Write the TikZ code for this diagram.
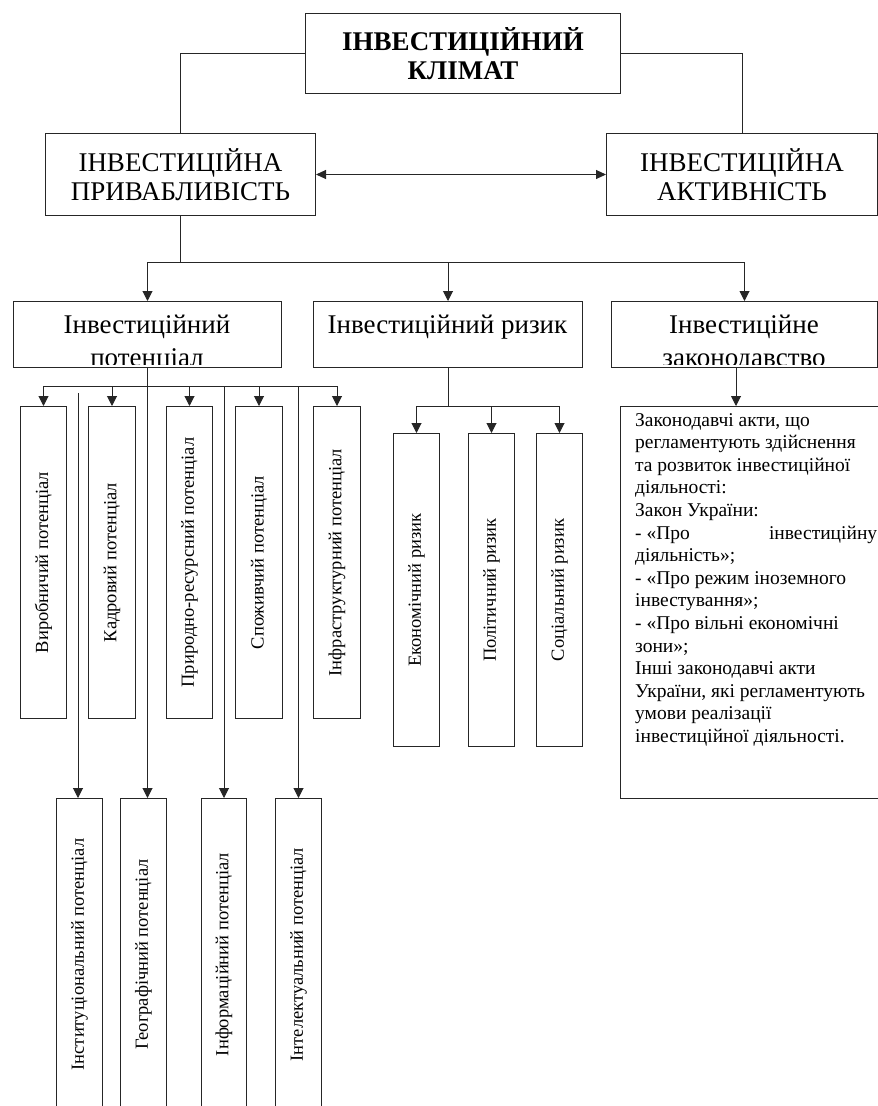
\documentclass[tikz,border=0pt]{standalone}
\usepackage{fontspec}
\setmainfont{Liberation Serif}
\usetikzlibrary{arrows.meta}
\newcommand{\fbig}{\fontsize{27}{29}\selectfont}
\newcommand{\fmid}{\fontsize{27}{30}\selectfont}
\newcommand{\fvert}{\fontsize{18.5}{22}\selectfont}
\newcommand{\flaw}{\fontsize{19.5}{22.6}\selectfont}
\begin{document}
\begin{tikzpicture}[x=1pt,y=-1pt,
  box/.style={draw=black!85, line width=1pt, inner sep=0pt, anchor=north west},
  vbox/.style={box, font=\fvert},
  ln/.style={draw=black!85, line width=1pt},
  arr/.style={ln, -{Triangle[length=10pt,width=10pt]}},
  darr/.style={ln, {Triangle[length=10pt,width=9pt]}-{Triangle[length=10pt,width=9pt]}}]
\useasboundingbox (0,0) rectangle (878,1106);
% top level
\node[box, minimum width=315pt, minimum height=80pt, align=center, font=\fbig\bfseries] (clim) at (305,13) {ІНВЕСТИЦІЙНИЙ\\КЛІМАТ};
\node[box, minimum width=270pt, minimum height=82pt, align=center, font=\fbig] (pryv) at (45,133) {ІНВЕСТИЦІЙНА\\ПРИВАБЛИВІСТЬ};
\node[box, minimum width=271pt, minimum height=82pt, align=center, font=\fbig] (akt) at (606,133) {ІНВЕСТИЦІЙНА\\АКТИВНІСТЬ};
\draw[ln] (clim.west) -| (pryv.north);
\draw[ln] (clim.east) -| (akt.north);
\draw[darr] (pryv.east) -- (akt.west);
% middle row
\node[box, minimum width=268pt, minimum height=66pt] (pot) at (13,301) {};
\node[box, minimum width=269pt, minimum height=66pt] (riz) at (313,301) {};
\node[box, minimum width=266pt, minimum height=66pt] (zak) at (611,301) {};
\begin{scope}
  \clip ([yshift=4pt]pot.south west) rectangle (pot.north east);
  \node[anchor=base, font=\fmid] (potA) at (147,333) {Інвестиційний};
  \node[anchor=base, font=\fmid] (potB) at (147,366) {потенціал};
\end{scope}
\node[anchor=base, font=\fmid] (rizA) at (447.5,333) {Інвестиційний ризик};
\begin{scope}
  \clip ([yshift=4pt]zak.south west) rectangle (zak.north east);
  \node[anchor=base, font=\fmid] (zakA) at (744,333) {Інвестиційне};
  \node[anchor=base, font=\fmid] (zakB) at (744,366) {законодавство};
\end{scope}
\coordinate (h1) at (0,262);
\draw[ln] (pryv.south) -- (pryv.south |- h1);
\draw[ln] (pot.north |- h1) -- (zak.north |- h1);
\draw[arr] (pot.north |- h1) -- (pot.north);
\draw[arr] (riz.north |- h1) -- (riz.north);
\draw[arr] (zak.north |- h1) -- (zak.north);
% potential boxes, upper row
\node[vbox, minimum width=46pt, minimum height=312pt] (vir) at (20,406) {\rotatebox{90}{Виробничий потенціал}};
\node[vbox, minimum width=47pt, minimum height=312pt] (kad) at (88,406) {\rotatebox{90}{Кадровий потенціал}};
\node[vbox, minimum width=46pt, minimum height=312pt] (pry) at (166,406) {\rotatebox{90}{Природно-ресурсний потенціал}};
\node[vbox, minimum width=47pt, minimum height=312pt] (spo) at (235,406) {\rotatebox{90}{Споживчий потенціал}};
\node[vbox, minimum width=47pt, minimum height=312pt] (inf) at (313,406) {\rotatebox{90}{Інфраструктурний потенціал}};
% potential boxes, lower row
\node[vbox, minimum width=46pt, minimum height=312pt] (ins) at (56,798) {\rotatebox{90}{Інституціональний потенціал}};
\node[vbox, minimum width=46pt, minimum height=312pt] (geo) at (120,798) {\rotatebox{90}{Географічний потенціал}};
\node[vbox, minimum width=45pt, minimum height=312pt] (inr) at (201,798) {\rotatebox{90}{Інформаційний потенціал}};
\node[vbox, minimum width=46pt, minimum height=312pt] (int) at (275,798) {\rotatebox{90}{Інтелектуальний потенціал}};
\coordinate (h2) at (0,386);
\coordinate (s1) at (78,393);
\draw[ln] (vir.north |- h2) -- (inf.north |- h2);
\foreach \n in {vir,kad,pry,spo,inf} {\draw[arr] (\n.north |- h2) -- (\n.north);}
\draw[arr] (pot.south) -- (pot.south |- geo.north);
\draw[arr] (s1) -- (s1 |- ins.north);
\draw[arr] (inr.north |- h2) -- (inr.north);
\draw[arr] (int.north |- h2) -- (int.north);
% risk boxes
\node[vbox, minimum width=46pt, minimum height=313pt] (eko) at (393,433) {\rotatebox{90}{Економічний ризик}};
\node[vbox, minimum width=46pt, minimum height=313pt] (pol) at (468,433) {\rotatebox{90}{Політичний ризик}};
\node[vbox, minimum width=46pt, minimum height=313pt] (soc) at (536,433) {\rotatebox{90}{Соціальний ризик}};
\coordinate (h3) at (0,406);
\draw[ln] (riz.south) -- (riz.south |- h3);
\draw[ln] (eko.north |- h3) -- (soc.north |- h3);
\foreach \n in {eko,pol,soc} {\draw[arr] (\n.north |- h3) -- (\n.north);}
% law box
\node[box, minimum width=262pt, minimum height=392pt] (law) at (620,406) {};
\coordinate (z1) at (736,367);
\draw[arr] (z1) -- (z1 |- law.north);
\node[anchor=base west, inner sep=0pt] (lawtext) at (635,426) {\vtop{\hsize=242pt\parindent=0pt\flaw\rightskip=0pt plus 1fil
Законодавчі акти, що\par
регламентують здійснення\par
та розвиток інвестиційної\par
діяльності:\par
Закон України:\par
\hbox to 242pt{- «Про\hfill інвестиційну}\par
діяльність»;\par
- «Про режим іноземного\par
інвестування»;\par
- «Про вільні економічні\par
зони»;\par
Інші законодавчі акти\par
України, які регламентують\par
умови реалізації\par
інвестиційної діяльності.\par}};
\end{tikzpicture}
\end{document}
